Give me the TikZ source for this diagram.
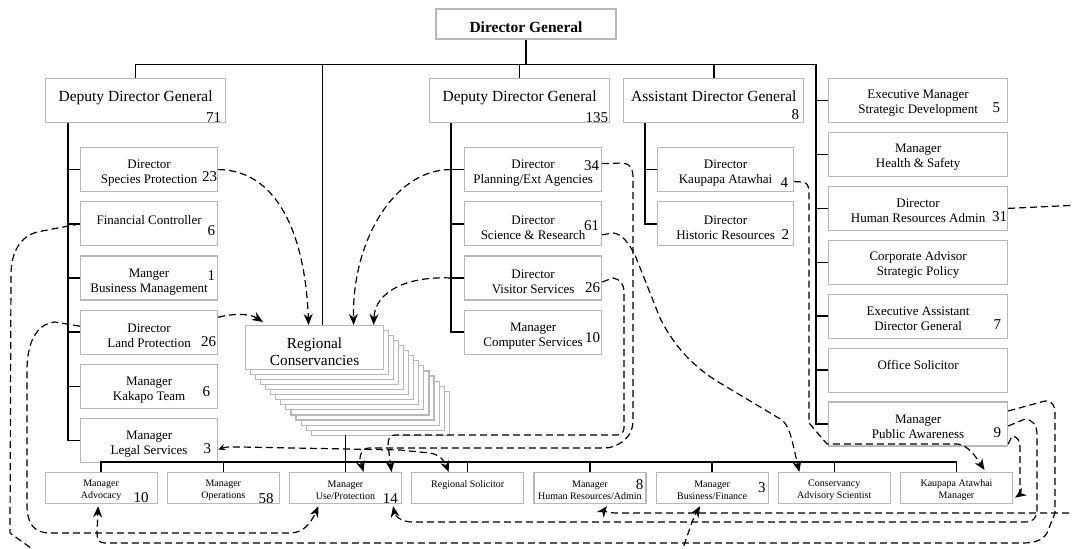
\documentclass[tikz,border=0pt]{standalone}
\usepackage{fontspec}
\setmainfont{Liberation Serif}
\usepackage{tikz}
\usetikzlibrary{positioning,arrows.meta}
\definecolor{boxgray}{RGB}{185,185,185}
\newcommand{\lift}[1]{\rule{0pt}{#1}}

\begin{document}
\begin{tikzpicture}[
    x=1pt, y=1pt,
    node distance=9pt and 9pt,
    box/.style={draw=boxgray, line width=1.2pt, fill=white, inner sep=0pt, align=center},
    headbox/.style={box, minimum width=180pt, minimum height=44pt, font=\fontsize{15.5}{18}\selectfont, text depth=9.5pt},
    subbox/.style={box, minimum width=137pt, minimum height=44pt, font=\fontsize{13}{15}\selectfont},
    sidebox/.style={subbox, minimum width=179pt},
    lowbox/.style={box, minimum width=112pt, minimum height=31pt, font=\fontsize{10}{12}\selectfont},
    num/.style={anchor=base east, inner sep=0pt, font=\fontsize{15}{15}\selectfont},
    tree/.style={line width=1.5pt},
    link/.style={line width=1.2pt, dash pattern=on 7pt off 4pt},
    arrow/.style={link, -{Stealth[length=11pt,width=9pt,inset=3.5pt]}}
  ]
    \useasboundingbox (0,0) rectangle (1072,-549);
    \clip (0,0) rectangle (1072,-549);

    % top of the chart
    \node[box, minimum width=180pt, minimum height=30pt, text height=16.5pt, font=\fontsize{15.5}{18}\selectfont\bfseries] (dg) at (526,-24) {Director General};
    \node[headbox, anchor=north west] (ddg1) at (45,-78) {Deputy Director General};
    \node[headbox, anchor=north west] (ddg2) at (429,-78) {Deputy Director General};
    \node[headbox, right=13pt of ddg2] (adg) {Assistant Director General};

    % first deputy
    \node[subbox, anchor=north west] (sp) at (80,-147) {\lift{16pt}Director\\Species Protection};
    \node[subbox, below=of sp] (fc) {\lift{16pt}Financial Controller\\\mbox{}};
    \node[subbox, below=of fc] (bm) {\lift{16pt}Manger\\Business Management};
    \node[subbox, below=of bm] (lp) {\lift{16pt}Director\\Land Protection};
    \node[subbox, below=of lp] (kt) {\lift{16pt}Manager\\Kakapo Team};
    \node[subbox, below=of kt] (ls) {\lift{16pt}Manager\\Legal Services};

    % second deputy
    \node[subbox, anchor=north west] (pe) at (464,-147) {\lift{16pt}Director\\Planning/Ext Agencies};
    \node[subbox, below=of pe] (sr) {\lift{16pt}Director\\Science \& Research};
    \node[subbox, below=of sr] (vs) {\lift{16pt}Director\\Visitor Services};
    \node[subbox, below=of vs] (cs) {\lift{16pt}Manager\\Computer Services};

    % assistant
    \node[subbox, minimum width=136pt, anchor=north west] (ka) at (657,-147) {\lift{16pt}Director\\Kaupapa Atawhai};
    \node[subbox, minimum width=136pt, below=of ka] (hi) {\lift{16pt}Director\\Historic Resources};

    % staff column
    \node[sidebox, anchor=north west] (esd) at (828,-78) {\lift{14pt}Executive Manager\\Strategic Development};
    \node[sidebox, below=8.7pt of esd] (hs) {\lift{14pt}Manager\\Health \& Safety};
    \node[sidebox, below=8.7pt of hs] (hra) {\lift{14pt}Director\\Human Resources Admin};
    \node[sidebox, below=8.7pt of hra] (csp) {\lift{14pt}Corporate Advisor\\Strategic Policy};
    \node[sidebox, below=8.7pt of csp] (ea) {\lift{14pt}Executive Assistant\\Director General};
    \node[sidebox, below=8.7pt of ea] (os) {\lift{14pt}Office Solicitor\\\mbox{}};
    \node[sidebox, below=8.7pt of os] (pa) {\lift{14pt}Manager\\Public Awareness};

    % regional conservancies
    \coordinate (rcnw) at (245,-325);
    \foreach \i in {13,12,...,1}
      \draw[draw=boxgray, line width=1.2pt, fill=white] ([shift={(5.1*\i,-5.1*\i)}]rcnw) rectangle ++(138,-44);
    \node[box, anchor=north west, minimum width=138pt, minimum height=44pt, font=\fontsize{15.3}{17}\selectfont] (rc) at (rcnw) {\lift{19pt}Regional\\Conservancies};

    % conservancy row
    \node[lowbox, anchor=north west] (adv) at (44.5,-472) {\lift{11pt}Manager\\Advocacy};
    \node[lowbox, right=of adv] (ops) {\lift{11pt}Manager\\Operations};
    \node[lowbox, right=of ops] (up) {\lift{11pt}Manager\\Use/Protection};
    \node[lowbox, right=of up] (rs) {\lift{11pt}Regional Solicitor\\\mbox{}};
    \node[lowbox, right=of rs] (hrm) {\lift{11pt}Manager\\Human Resources/Admin};
    \node[lowbox, right=of hrm] (bf) {\lift{11pt}Manager\\Business/Finance};
    \node[lowbox, right=of bf] (cas) {\lift{11pt}Conservancy\\Advisory Scientist};
    \node[lowbox, right=of cas] (kam) {\lift{11pt}Kaupapa Atawhai\\Manager};

    % staff numbers
    \node[num] (n71) at ([xshift=-5pt,yshift=0.5pt]ddg1.south east) {71};
    \node[num] (n135) at ([xshift=-2pt,yshift=0.5pt]ddg2.south east) {135};
    \node[num] (n8a) at ([xshift=-5pt,yshift=4pt]adg.south east) {8};
    \node[num] (n23) at ([xshift=-1pt,yshift=11pt]sp.south east) {23};
    \node[num] (n6a) at ([xshift=-3pt,yshift=11pt]fc.south east) {6};
    \node[num] (n1) at ([xshift=-3pt,yshift=20pt]bm.south east) {1};
    \node[num] (n26a) at ([xshift=-2pt,yshift=8pt]lp.south east) {26};
    \node[num] (n6b) at ([xshift=-8pt,yshift=13pt]kt.south east) {6};
    \node[num] (n3a) at ([xshift=-7pt,yshift=10pt]ls.south east) {3};
    \node[num] (n34) at ([xshift=-3pt,yshift=22pt]pe.south east) {34};
    \node[num] (n61) at ([xshift=-3pt,yshift=16pt]sr.south east) {61};
    \node[num] (n26b) at ([xshift=-2pt,yshift=8pt]vs.south east) {26};
    \node[num] (n10a) at ([xshift=-2pt,yshift=12pt]cs.south east) {10};
    \node[num] (n4) at ([xshift=-6pt,yshift=5pt]ka.south east) {4};
    \node[num] (n2) at ([xshift=-5pt,yshift=7pt]hi.south east) {2};
    \node[num] (n5) at ([xshift=-8pt,yshift=11pt]esd.south east) {5};
    \node[num] (n31) at ([xshift=-1pt,yshift=10pt]hra.south east) {31};
    \node[num] (n7) at ([xshift=-7pt,yshift=9pt]ea.south east) {7};
    \node[num] (n9) at ([xshift=-7pt,yshift=9pt]pa.south east) {9};
    \node[num] (n10b) at ([xshift=-9pt,yshift=2pt]adv.south east) {10};
    \node[num] (n58) at ([xshift=-6pt,yshift=1pt]ops.south east) {58};
    \node[num] (n14) at ([xshift=-4pt,yshift=1pt]up.south east) {14};
    \node[num] (n8b) at ([xshift=-3pt,yshift=15pt]hrm.south east) {8};
    \node[num] (n3b) at ([xshift=-3pt,yshift=12pt]bf.south east) {3};

    % solid reporting lines
    \coordinate (busc) at ([yshift=-25pt]dg.south);
    \coordinate (rctop) at ([xshift=8pt]rc.north);
    \draw[tree] (dg.south) -- (busc);
    \draw[tree] (ddg1.north) |- (busc) -| ([xshift=-12pt]pa.west) -- (pa.west);
    \draw[tree] (ddg2.north) -- (ddg2.north |- busc);
    \draw[tree] (adg.north) -- (adg.north |- busc);
    \draw[tree] (rctop) -- (rctop |- busc);
    \foreach \b in {esd,hs,hra,csp,ea,os}
      \draw[tree] (\b.west) -- ++(-12,0);
    \draw[tree] ([xshift=23pt]ddg1.south west) |- (ls.west);
    \foreach \b in {sp,fc,bm,lp,kt}
      \draw[tree] (\b.west) -- ++(-12,0);
    \draw[tree] ([xshift=22pt]ddg2.south west) |- (cs.west);
    \foreach \b in {pe,sr,vs}
      \draw[tree] (\b.west) -- ++(-13,0);
    \draw[tree] ([xshift=22pt]adg.south west) |- (hi.west);
    \draw[tree] (ka.west) -- ++(-13,0);
    \draw[tree] (up.north) -- ++(0,37);
    \draw[tree] (adv.north) -- ++(0,10) -| (kam.north);
    \foreach \b in {ops,rs,hrm,bf,cas}
      \draw[tree] (\b.north) -- ++(0,10);

    % dashed links
    \draw[arrow] (sp.east) .. controls (275,-170) and (305,-230) .. ([xshift=-6pt]rc.north);
    \draw[arrow] ([xshift=-13pt]pe.west) .. controls (395,-169) and (352,-240) .. ([xshift=39pt]rc.north);
    \draw[arrow] ([xshift=-13pt]vs.west) .. controls (410,-276) and (375,-290) .. ([xshift=59pt]rc.north);
    \draw[arrow] ([yshift=15pt]lp.east) .. controls (240,-312) and (252,-315) .. ([xshift=18pt,yshift=3pt]rc.north west);
    \draw[arrow] ([yshift=6pt]lp.west) -- (55,-322) .. controls (35,-324) and (27,-345) .. (27,-370) -- (27,-505)
      .. controls (27,-525) and (35,-533) .. (50,-533) -- (290,-533) .. controls (302,-533) and (310,-525) .. ([xshift=-27pt,yshift=-2pt]up.south);
    \coordinate (offbl) at (42,-556);
    \draw[link] (fc.west) -- (37,-232) .. controls (22,-236) and (11,-250) .. (11,-275) -- (10,-533) -- (offbl);
    \coordinate (offbf) at (680,-556);
    \draw[arrow] (offbf) .. controls (688,-535) and (692,-520) .. ([xshift=-12pt,yshift=-2pt]bf.south);
    \draw[arrow] ([yshift=13pt]pa.east) -- (1045,-401) .. controls (1052,-401) and (1055,-405) .. (1055,-413) -- (1055,-513) -- (1047,-533)
      .. controls (1043,-540) and (1035,-543) .. (1023,-543) -- (105,-543) .. controls (99,-543) and (97,-540) .. (97,-533) -- ([xshift=-3pt,yshift=-2pt]adv.south);
    \draw[arrow] ([yshift=-2pt]pa.east) -- (1025,-419) .. controls (1033,-420) and (1037,-425) .. (1037,-435) -- (1037,-510)
      .. controls (1037,-518) and (1033,-522) .. (1025,-522) -- (412,-522) .. controls (402,-522) and (395,-516) .. ([xshift=-9pt,yshift=-2pt]up.south east);
    \draw[arrow] ([yshift=-20pt]pa.east) -- (1012,-436) .. controls (1018,-437) and (1020,-441) .. (1020,-448) -- (1020,-489)
      .. controls (1020,-495) and (1016,-497) .. ([xshift=2pt,yshift=-9.5pt]kam.east);
    \draw[arrow] ([yshift=-12pt]ka.east) -- (803,-182) .. controls (807,-183) and (809,-186) .. (809,-192) -- (809,-423) -- (827,-444) -- (958,-444)
      .. controls (968,-446) and (974,-454) .. ([xshift=28pt,yshift=2pt]kam.north);
    \draw[arrow] ([yshift=6pt]pe.east) -- (623,-163) .. controls (630,-164) and (633,-168) .. (633,-178) -- (633,-420)
      .. controls (633,-430) and (629,-437) .. (622,-442) .. controls (616,-446) and (611,-448) .. (604,-448) -- (370,-448)
      .. controls (363,-448) and (360,-452) .. (360,-460) -- ([xshift=18pt]up.north);
    \draw[arrow] ([yshift=-4pt]vs.east) -- (613,-278) .. controls (620,-279) and (624,-284) .. (624,-292) -- (624,-428)
      .. controls (624,-432) and (621,-435) .. (617,-435) -- (395,-435) .. controls (390,-435) and (388,-438) .. (388,-445) -- ([xshift=46pt]up.north);
    \draw[link, {Stealth[length=7pt,width=6pt,inset=2.5pt]}-{Stealth[length=11pt,width=9pt,inset=3.5pt]}] ([yshift=-9pt]ls.east)
      .. controls (225,-447) .. (240,-447) -- (400,-450) -- (430,-453) .. controls (440,-455) and (444,-460) .. ([xshift=-19pt]rs.north);
    \draw[arrow] ([yshift=-11pt]sr.east) -- (613,-233) .. controls (622,-234) and (628,-242) .. (635,-255) -- (660,-318)
      .. controls (675,-348) and (695,-368) .. (720,-383) -- (782,-420) .. controls (790,-427) and (792,-440) .. ([xshift=-35pt]cas.north);
    \coordinate (offr1) at (1080,-205);
    \draw[link] (hra.east) -- (offr1);
    \coordinate (offr2) at (1080,-513);
    \draw[arrow] (offr2) -- (615,-513) .. controls (608,-513) and (604,-510) .. ([xshift=17pt,yshift=-2pt]hrm.south);
  \end{tikzpicture}
\end{document}
